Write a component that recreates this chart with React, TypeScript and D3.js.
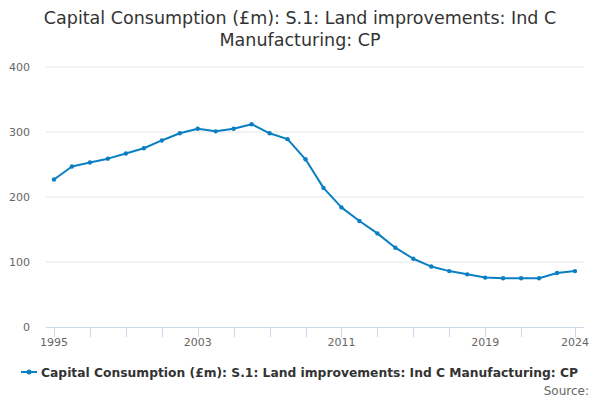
import { useEffect, useRef } from "react";
import * as d3 from "d3";

// ── Data ──────────────────────────────────────────────────────────────────────

const YEARS = d3.range(1995, 2025);

const VALUES = [
  227, 247, 253, 259, 267, 275, 287, 298, 305, 301,
  305, 312, 298, 289, 258, 214, 184, 163, 144, 122,
  105, 93, 86, 81, 76, 75, 75, 75, 83, 86,
];

const Y_TICKS = [0, 100, 200, 300, 400];
const X_LABELS = [1995, 2003, 2011, 2019, 2024];
const X_TICKS = [...d3.range(1995, 2023, 2), 2024];

const TITLE = ["Capital Consumption (£m): S.1: Land improvements: Ind C", "Manufacturing: CP"];
const SERIES_NAME = "Capital Consumption (£m): S.1: Land improvements: Ind C Manufacturing: CP";

// ── Config ────────────────────────────────────────────────────────────────────

const W = 600;
const H = 400;
const PLOT = { left: 46, right: 584, top: 67, bottom: 327 };
const COLOR = "#0a7fc4";
const FONT = "'DejaVu Sans', sans-serif";

// ── Component ─────────────────────────────────────────────────────────────────

const App = () => {
  const svgRef = useRef<SVGSVGElement>(null);

  useEffect(() => {
    if (!svgRef.current) return;
    const svg = d3.select(svgRef.current);
    svg.selectAll("*").remove();

    const x = d3.scaleLinear().domain([1995, 2024]).range([54, 575]);
    const y = d3.scaleLinear().domain([0, 400]).range([PLOT.bottom, PLOT.top]);

    // Title
    svg.append("text")
      .attr("x", W / 2)
      .attr("text-anchor", "middle")
      .attr("font-size", 17.5)
      .attr("fill", "#333")
      .selectAll("tspan")
      .data(TITLE)
      .join("tspan")
      .attr("x", W / 2)
      .attr("y", (_, i) => 24 + i * 22)
      .text((d) => d);

    // Grid lines
    svg.append("g")
      .selectAll("line")
      .data(Y_TICKS.filter((t) => t > 0))
      .join("line")
      .attr("x1", PLOT.left)
      .attr("x2", PLOT.right)
      .attr("y1", (d) => y(d))
      .attr("y2", (d) => y(d))
      .attr("stroke", "#e6e6e6")
      .attr("stroke-width", 1);

    // Y labels
    svg.append("g")
      .selectAll("text")
      .data(Y_TICKS)
      .join("text")
      .attr("x", 30)
      .attr("y", (d) => y(d) + 4)
      .attr("text-anchor", "end")
      .attr("font-size", 11)
      .attr("fill", "#666")
      .text((d) => d);

    // X axis
    svg.append("line")
      .attr("x1", PLOT.left)
      .attr("x2", PLOT.right)
      .attr("y1", PLOT.bottom + 0.5)
      .attr("y2", PLOT.bottom + 0.5)
      .attr("stroke", "#ccd6eb");

    svg.append("g")
      .selectAll("line")
      .data(X_TICKS)
      .join("line")
      .attr("x1", (d) => Math.round(x(d)) + 0.5)
      .attr("x2", (d) => Math.round(x(d)) + 0.5)
      .attr("y1", PLOT.bottom)
      .attr("y2", PLOT.bottom + 10)
      .attr("stroke", "#ccd6eb");

    svg.append("g")
      .selectAll("text")
      .data(X_LABELS)
      .join("text")
      .attr("x", (d) => x(d))
      .attr("y", 346)
      .attr("text-anchor", "middle")
      .attr("font-size", 11)
      .attr("fill", "#666")
      .text((d) => d);

    // Line
    const points = YEARS.map((yr, i) => ({ yr, v: VALUES[i] }));
    const line = d3.line<{ yr: number; v: number }>()
      .x((d) => x(d.yr))
      .y((d) => y(d.v));

    svg.append("path")
      .datum(points)
      .attr("fill", "none")
      .attr("stroke", COLOR)
      .attr("stroke-width", 2)
      .attr("stroke-linejoin", "round")
      .attr("d", line);

    svg.append("g")
      .selectAll("circle")
      .data(points)
      .join("circle")
      .attr("cx", (d) => x(d.yr))
      .attr("cy", (d) => y(d.v))
      .attr("r", 2.2)
      .attr("fill", COLOR);

    // Legend
    svg.append("line")
      .attr("x1", 21).attr("x2", 37)
      .attr("y1", 372).attr("y2", 372)
      .attr("stroke", COLOR)
      .attr("stroke-width", 2);
    svg.append("circle")
      .attr("cx", 29).attr("cy", 372).attr("r", 2.5)
      .attr("fill", COLOR);
    svg.append("text")
      .attr("x", 41)
      .attr("y", 376.5)
      .attr("font-size", 12)
      .attr("font-weight", "bold")
      .attr("fill", "#333")
      .attr("textLength", 537)
      .attr("lengthAdjust", "spacingAndGlyphs")
      .text(SERIES_NAME);

    // Source
    svg.append("text")
      .attr("x", 589)
      .attr("y", 395)
      .attr("text-anchor", "end")
      .attr("font-size", 12)
      .attr("fill", "#666")
      .text("Source:");
  }, []);

  return (
    <svg
      ref={svgRef}
      width={W}
      height={H}
      style={{ position: "absolute", left: 0, top: 0, fontFamily: FONT, background: "#fff" }}
    />
  );
};

export default App;
